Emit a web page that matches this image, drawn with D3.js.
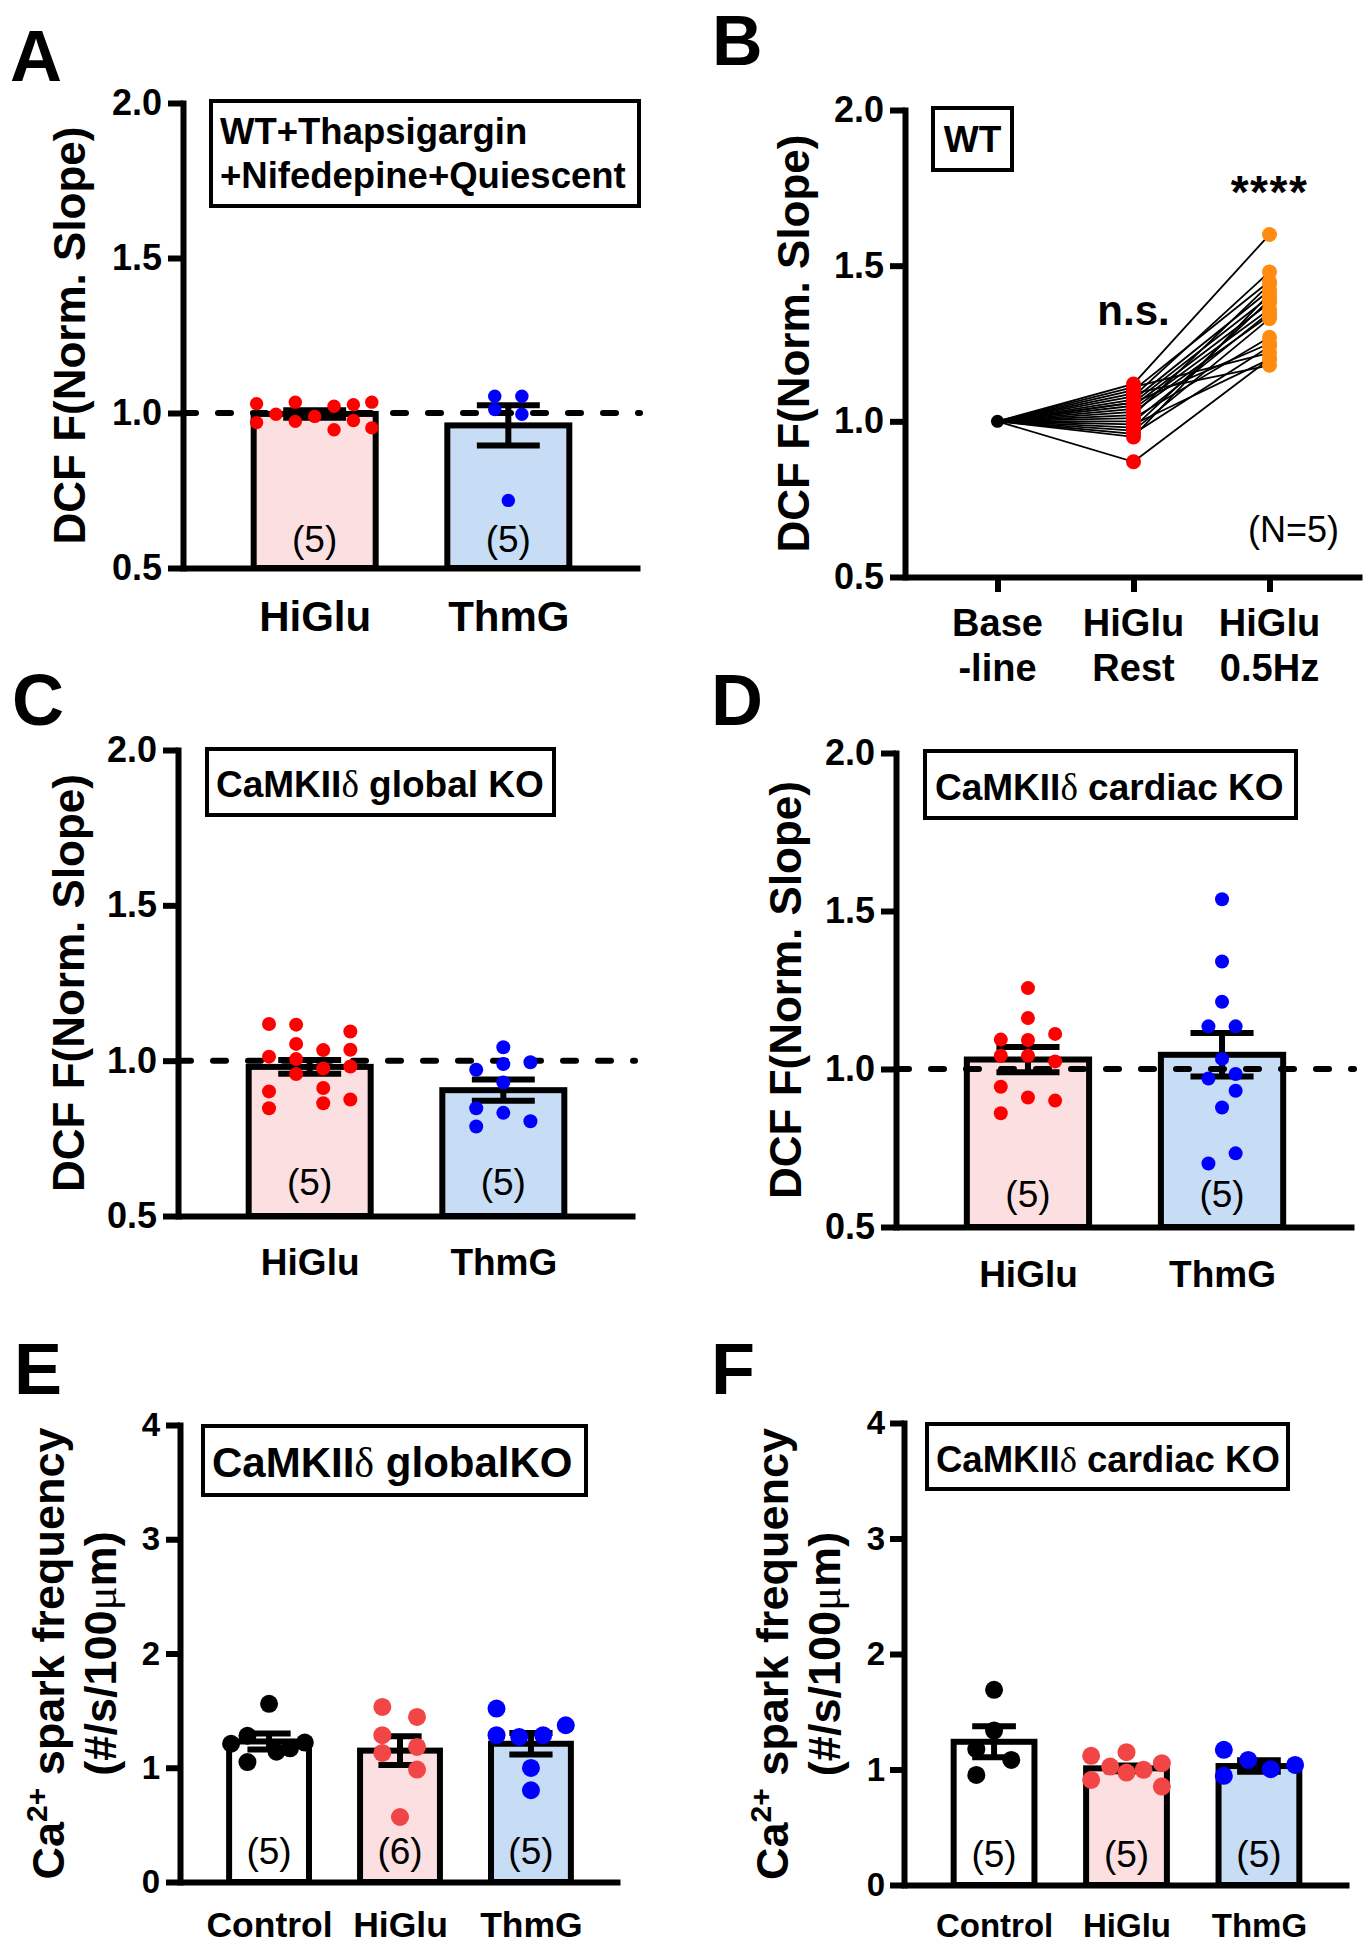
<!DOCTYPE html>
<html><head><meta charset="utf-8">
<script src="https://cdn.jsdelivr.net/npm/d3@7"></script>
<style>body{margin:0;background:#fff}svg{display:block}</style>
</head><body>
<script>
// ================= DATA =================
const barGroups = ["HiGlu", "ThmG"];
const sparkGroups = ["Control", "HiGlu", "ThmG"];
const pairedLabels = [["Base", "-line"], ["HiGlu", "Rest"], ["HiGlu", "0.5Hz"]];
const dcfTicks = [0.5, 1.0, 1.5, 2.0];
const sparkTicks = [0, 1, 2, 3, 4];

// Panel A
const aMean = [0.997, 0.960];
const aSem = [0.012, 0.065];
const aN = ["(5)", "(5)"];
const aHiGlu = [1.030, 0.969, 0.996, 1.035, 0.973, 0.989, 1.022, 0.946, 1.027, 0.976, 1.035, 0.952];
const aHiGluJitter = [-0.30, -0.30, -0.20, -0.10, -0.10, 0, 0.10, 0.10, 0.20, 0.20, 0.295, 0.295];
const aThmG = [1.054, 1.054, 1.011, 0.996, 0.718];
const aThmGJitter = [-0.07, 0.07, -0.07, 0.07, 0];

// Panel B (paired, 20 cells)
const bBaseline = 1.0;
const bRest = [1.12, 1.11, 1.10, 1.09, 1.08, 1.07, 1.06, 1.06, 1.05, 1.04, 1.03, 1.02, 1.01, 1.00, 0.99, 0.98, 0.97, 0.96, 0.95, 0.87];
const bHz   = [1.60, 1.22, 1.45, 1.18, 1.48, 1.42, 1.25, 1.40, 1.38, 1.36, 1.34, 1.44, 1.27, 1.35, 1.20, 1.39, 1.33, 1.24, 1.41, 1.20];

// Panel C
const cMean = [0.980, 0.905];
const cSem = [0.022, 0.034];
const cN = ["(5)", "(5)"];
const cHiGlu = [1.118, 1.013, 0.901, 0.847, 1.116, 1.054, 1.005, 0.957, 1.034, 0.975, 0.912, 0.863, 1.094, 1.035, 0.981, 0.875];
const cHiGluJitter = [-0.21, -0.21, -0.21, -0.21, -0.07, -0.07, -0.07, -0.07, 0.07, 0.07, 0.07, 0.07, 0.21, 0.21, 0.21, 0.21];
const cThmG = [0.971, 0.847, 0.788, 1.043, 0.989, 0.930, 0.832, 0.995, 0.805];
const cThmGJitter = [-0.14, -0.14, -0.14, 0, 0, 0, 0, 0.14, 0.14];

// Panel D
const dMean = [1.030, 1.045];
const dSem = [0.040, 0.069];
const dN = ["(5)", "(5)"];
const dHiGlu = [1.093, 1.042, 0.944, 0.860, 1.256, 1.161, 1.092, 1.042, 0.910, 1.111, 1.024, 0.900];
const dHiGluJitter = [-0.14, -0.14, -0.14, -0.14, 0, 0, 0, 0, 0, 0.14, 0.14, 0.14];
const dThmG = [1.135, 0.970, 0.701, 1.537, 1.340, 1.213, 1.032, 0.878, 1.135, 0.984, 0.931, 0.733];
const dThmGJitter = [-0.07, -0.07, -0.07, 0, 0, 0, 0, 0, 0.07, 0.07, 0.07, 0.07];

// Panel E
const eMean = [1.230, 1.150, 1.210];
const eSem = [0.070, 0.125, 0.095];
const eN = ["(5)", "(6)", "(5)"];
const eControl = [1.21, 1.28, 1.05, 1.56, 1.14, 1.17, 1.22];
const eControlJitter = [-0.29, -0.165, -0.165, 0, 0.057, 0.16, 0.273];
const eHiGlu = [1.532, 1.445, 1.285, 1.130, 1.182, 0.984, 0.569];
const eHiGluJitter = [-0.135, 0.13, -0.135, -0.135, 0.13, 0.13, 0];
const eThmG = [1.518, 1.285, 1.270, 1.285, 1.372, 0.998, 0.803];
const eThmGJitter = [-0.263, -0.263, -0.09, 0.093, 0.266, 0, 0];

// Panel F
const fMean = [1.240, 1.010, 1.030];
const fSem = [0.135, 0.025, 0.050];
const fN = ["(5)", "(5)", "(5)"];
const fControl = [1.690, 1.337, 1.176, 1.083, 0.953];
const fControlJitter = [0, 0, -0.134, 0.13, -0.134];
const fHiGlu = [1.118, 0.910, 1.025, 1.150, 0.973, 0.997, 1.055, 0.852];
const fHiGluJitter = [-0.267, -0.267, -0.123, 0, 0, 0.129, 0.267, 0.267];
const fThmG = [1.170, 0.945, 1.083, 1.003, 1.040];
const fThmGJitter = [-0.265, -0.265, -0.081, 0.089, 0.273];

// ================= STYLE =================
const FONT = "'Liberation Sans', Arial, Helvetica, sans-serif";
const SERIF = "'Liberation Serif', 'Times New Roman', serif";
const RED = "#FF0000", BLUE = "#0000FF", ORANGE = "#FF8C10", RED2 = "#F24545";
const PINK = "#FCDFE1", LBLUE = "#C7DCF5", WHITE = "#FFFFFF";
const SW = 6;

const svg = d3.select("body").append("svg").attr("width", 1372).attr("height", 1948);
svg.append("rect").attr("width", 1372).attr("height", 1948).attr("fill", "#fff");

function addText(g, o) {
  const t = g.append("text").attr("x", o.x).attr("y", o.y).attr("font-family", FONT)
    .attr("font-size", o.size).attr("font-weight", o.bold === false ? "normal" : "bold")
    .attr("text-anchor", o.anchor || "start").attr("fill", "#000").style("white-space", "pre");
  if (o.transform) t.attr("transform", o.transform);
  if (o.spacing) t.attr("letter-spacing", o.spacing);
  (o.segs || [{ t: o.text }]).forEach(s => {
    const ts = t.append("tspan").text(s.t);
    if (s.serif) ts.attr("font-family", SERIF).attr("font-weight", "normal");
    if (s.size) ts.attr("font-size", s.size);
    if (s.dy) ts.attr("dy", s.dy);
  });
  return t;
}

function drawBox(g, b) {
  g.append("rect").attr("x", b.x0 + 2).attr("y", b.y0 + 2).attr("width", b.x1 - b.x0 - 4)
    .attr("height", b.y1 - b.y0 - 4).attr("fill", "#fff").attr("stroke", "#000").attr("stroke-width", 4);
  b.lines.forEach(l => addText(g, { x: b.tx, y: l.y, size: b.size, segs: l.segs, anchor: b.anchor || "start" }));
}

function yAxis(g, y, p) {
  const ya = d3.axisLeft(y).tickValues(p.ticks).tickFormat(p.fmt).tickSize(p.tickLen)
    .tickSizeOuter(0).tickPadding(p.tickPad);
  const yg = g.append("g").attr("transform", `translate(${p.left},0)`).call(ya);
  yg.attr("font-family", FONT).attr("font-size", p.tickFont).attr("font-weight", "bold");
  yg.select(".domain").attr("stroke-width", SW).attr("stroke-linecap", "square");
  yg.selectAll(".tick line").attr("stroke-width", SW);
  yg.selectAll(".tick text").attr("fill", "#000");
}

function drawTitle(g, p) {
  p.titleLines.forEach(l => addText(g, { x: 0, y: 0, size: p.titleSize, anchor: "middle",
    transform: `translate(${l.x},${p.titleCy}) rotate(-90)`, segs: l.segs }));
}

function drawBarPanel(p) {
  const g = svg.append("g");
  const y = d3.scaleLinear().domain(p.domain).range([p.yBot, p.yTop]);
  const x = d3.scalePoint().domain(p.groups).range([p.left, p.right]).padding(0.68);
  const step = x.step(), bw = step * p.barFrac, cw = step * p.capFrac;

  g.append("g").selectAll("rect").data(p.groups).join("rect")
    .attr("x", d => x(d) - bw / 2).attr("y", (d, i) => y(p.means[i]))
    .attr("width", bw).attr("height", (d, i) => p.yBot - y(p.means[i]))
    .attr("fill", (d, i) => p.fills[i]).attr("stroke", "#000").attr("stroke-width", SW);

  g.append("g").selectAll("text").data(p.groups).join("text")
    .attr("x", d => x(d)).attr("y", p.nBase).attr("text-anchor", "middle")
    .attr("font-family", FONT).attr("font-size", 37).attr("fill", "#000")
    .text((d, i) => p.nLabels[i]);

  if (p.ref != null) {
    g.append("line").attr("x1", p.left).attr("x2", p.right).attr("y1", y(p.ref)).attr("y2", y(p.ref))
      .attr("stroke", "#000").attr("stroke-width", SW).attr("stroke-dasharray", "13,22")
      .attr("stroke-linecap", "round");
  }

  p.groups.forEach((gn, i) => {
    const xc = x(gn), m = p.means[i], s = p.sems[i];
    const eg = g.append("g").attr("stroke", "#000").attr("stroke-width", SW);
    eg.append("line").attr("x1", xc).attr("x2", xc).attr("y1", y(m - s)).attr("y2", y(m + s));
    [m - s, m + s].forEach(v => eg.append("line").attr("x1", xc - cw / 2).attr("x2", xc + cw / 2)
      .attr("y1", y(v)).attr("y2", y(v)));
  });

  p.dots.forEach((d, i) => {
    const xc = x(p.groups[i]);
    g.append("g").selectAll("circle").data(d.v).join("circle")
      .attr("cx", (v, k) => xc + d.j[k] * step).attr("cy", v => y(v)).attr("r", p.r).attr("fill", d.c);
  });

  const xa = d3.axisBottom(x).tickSize(0).tickSizeOuter(0);
  const xg = g.append("g").attr("transform", `translate(0,${p.yBot})`).call(xa);
  xg.attr("font-family", FONT).attr("font-size", p.labelFont).attr("font-weight", "bold");
  xg.select(".domain").attr("stroke-width", SW);
  xg.selectAll(".tick text").attr("y", p.labelBase - p.yBot).attr("dy", null).attr("fill", "#000");

  yAxis(g, y, p);
  drawTitle(g, p);
  drawBox(g, p.box);
  addText(g, { x: p.letter.x, y: p.letter.y, size: 72, text: p.letter.t });
}

function drawPaired(p) {
  const g = svg.append("g");
  const y = d3.scaleLinear().domain(p.domain).range([p.yBot, p.yTop]);
  const x = d3.scalePoint().domain([0, 1, 2]).range([p.left, p.right]).padding(0.68);
  const line = d3.line().x(d => x(d[0])).y(d => y(d[1]));

  g.append("g").selectAll("path").data(bRest).join("path")
    .attr("d", (r, i) => line([[0, bBaseline], [1, r], [2, bHz[i]]]))
    .attr("fill", "none").attr("stroke", "#000").attr("stroke-width", 1.8);

  g.append("circle").attr("cx", x(0)).attr("cy", y(bBaseline)).attr("r", 6.5).attr("fill", "#000");
  g.append("g").selectAll("circle").data(bRest).join("circle")
    .attr("cx", x(1)).attr("cy", d => y(d)).attr("r", 7.5).attr("fill", RED);
  g.append("g").selectAll("circle").data(bHz).join("circle")
    .attr("cx", x(2)).attr("cy", d => y(d)).attr("r", 7.5).attr("fill", ORANGE);

  const xa = d3.axisBottom(x).tickSize(15).tickSizeOuter(0).tickFormat("");
  const xg = g.append("g").attr("transform", `translate(0,${p.yBot})`).call(xa);
  xg.select(".domain").attr("stroke-width", SW);
  xg.selectAll(".tick line").attr("stroke-width", SW);

  pairedLabels.forEach((lab, i) => {
    lab.forEach((s, k) => addText(g, { x: x(i), y: p.labelBase[k], size: p.labelFont, anchor: "middle", text: s }));
  });

  yAxis(g, y, p);
  drawTitle(g, p);
  drawBox(g, p.box);

  addText(g, { x: x(1), y: y(1.31), size: 42, anchor: "middle", text: "n.s." });
  addText(g, { x: x(2), y: y(1.685), size: 46, anchor: "middle", text: "****", spacing: 1.5 });
  addText(g, { x: 1339, y: 542, size: 36, anchor: "end", bold: false, text: "(N=5)" });
  addText(g, { x: p.letter.x, y: p.letter.y, size: 70, text: p.letter.t });
}

const fmt1 = d3.format(".1f"), fmt0 = d3.format("d");
const dcfTitle = [{ t: "DCF F(Norm. Slope)" }];

// ---- A ----
drawBarPanel({
  left: 183, right: 640, yTop: 103, yBot: 568, domain: [0.5, 2.0], ticks: dcfTicks, fmt: fmt1,
  tickLen: 15, tickPad: 6, tickFont: 36, groups: barGroups, means: aMean, sems: aSem, nLabels: aN,
  fills: [PINK, LBLUE], dots: [{ v: aHiGlu, j: aHiGluJitter, c: RED }, { v: aThmG, j: aThmGJitter, c: BLUE }],
  barFrac: 0.63, capFrac: 0.325, r: 6.7, ref: 1.0, labelFont: 42, labelBase: 631, nBase: 552,
  titleSize: 44, titleCy: 335.5, titleLines: [{ x: 85, segs: dcfTitle }],
  box: { x0: 209, x1: 641, y0: 99, y1: 208, tx: 220, size: 36.5,
    lines: [{ y: 144, segs: [{ t: "WT+Thapsigargin" }] }, { y: 188, segs: [{ t: "+Nifedepine+Quiescent" }] }] },
  letter: { t: "A", x: 10, y: 81 }
});

// ---- B ----
drawPaired({
  left: 905, right: 1362, yTop: 110, yBot: 577, domain: [0.5, 2.0], ticks: dcfTicks, fmt: fmt1,
  tickLen: 15, tickPad: 6, tickFont: 36, labelFont: 38, labelBase: [636, 681],
  titleSize: 44, titleCy: 343.5, titleLines: [{ x: 809, segs: dcfTitle }],
  box: { x0: 931, x1: 1014, y0: 106, y1: 172, tx: 972.5, anchor: "middle", size: 37,
    lines: [{ y: 152, segs: [{ t: "WT" }] }] },
  letter: { t: "B", x: 712, y: 65 }
});

// ---- C ----
drawBarPanel({
  left: 178, right: 635, yTop: 750, yBot: 1216, domain: [0.5, 2.0], ticks: dcfTicks, fmt: fmt1,
  tickLen: 15, tickPad: 6, tickFont: 36, groups: barGroups, means: cMean, sems: cSem, nLabels: cN,
  fills: [PINK, LBLUE], dots: [{ v: cHiGlu, j: cHiGluJitter, c: RED }, { v: cThmG, j: cThmGJitter, c: BLUE }],
  barFrac: 0.63, capFrac: 0.325, r: 7, ref: 1.0, labelFont: 37, labelBase: 1275, nBase: 1195,
  titleSize: 44, titleCy: 983, titleLines: [{ x: 83.5, segs: dcfTitle }],
  box: { x0: 205, x1: 556, y0: 747, y1: 817, tx: 216, size: 37,
    lines: [{ y: 797, segs: [{ t: "CaMKII" }, { t: "δ", serif: true }, { t: " global KO" }] }] },
  letter: { t: "C", x: 12, y: 725 }
});

// ---- D ----
drawBarPanel({
  left: 896, right: 1354, yTop: 753, yBot: 1227, domain: [0.5, 2.0], ticks: dcfTicks, fmt: fmt1,
  tickLen: 15, tickPad: 6, tickFont: 36, groups: barGroups, means: dMean, sems: dSem, nLabels: dN,
  fills: [PINK, LBLUE], dots: [{ v: dHiGlu, j: dHiGluJitter, c: RED }, { v: dThmG, j: dThmGJitter, c: BLUE }],
  barFrac: 0.63, capFrac: 0.325, r: 7, ref: 1.0, labelFont: 37, labelBase: 1287, nBase: 1207,
  titleSize: 44, titleCy: 990, titleLines: [{ x: 801, segs: dcfTitle }],
  box: { x0: 923, x1: 1298, y0: 749, y1: 820, tx: 935, size: 37,
    lines: [{ y: 800, segs: [{ t: "CaMKII" }, { t: "δ", serif: true }, { t: " cardiac KO" }] }] },
  letter: { t: "D", x: 711, y: 725 }
});

// ---- E ----
const sparkL1 = [{ t: "Ca" }, { t: "2+", size: 30, dy: -17 }, { t: " spark frequency", dy: 17 }];
const sparkL2 = [{ t: "(#/s/100" }, { t: "μ", serif: true }, { t: "m)" }];
drawBarPanel({
  left: 180, right: 620, yTop: 1425, yBot: 1882, domain: [0, 4], ticks: sparkTicks, fmt: fmt0,
  tickLen: 14, tickPad: 6, tickFont: 33, groups: sparkGroups, means: eMean, sems: eSem, nLabels: eN,
  fills: [WHITE, PINK, LBLUE],
  dots: [{ v: eControl, j: eControlJitter, c: "#000" }, { v: eHiGlu, j: eHiGluJitter, c: RED2 }, { v: eThmG, j: eThmGJitter, c: BLUE }],
  barFrac: 0.61, capFrac: 0.33, r: 9, ref: null, labelFont: 35.5, labelBase: 1937, nBase: 1864,
  titleSize: 45, titleCy: 1653.5, titleLines: [{ x: 64, segs: sparkL1 }, { x: 116, segs: sparkL2 }],
  box: { x0: 201, x1: 588, y0: 1424, y1: 1497, tx: 212, size: 42,
    lines: [{ y: 1477, segs: [{ t: "CaMKII" }, { t: "δ", serif: true }, { t: " globalKO" }] }] },
  letter: { t: "E", x: 14, y: 1394 }
});

// ---- F ----
drawBarPanel({
  left: 904, right: 1349, yTop: 1423, yBot: 1885, domain: [0, 4], ticks: sparkTicks, fmt: fmt0,
  tickLen: 14, tickPad: 5, tickFont: 33, groups: sparkGroups, means: fMean, sems: fSem, nLabels: fN,
  fills: [WHITE, PINK, LBLUE],
  dots: [{ v: fControl, j: fControlJitter, c: "#000" }, { v: fHiGlu, j: fHiGluJitter, c: RED2 }, { v: fThmG, j: fThmGJitter, c: BLUE }],
  barFrac: 0.61, capFrac: 0.33, r: 9, ref: null, labelFont: 33, labelBase: 1937, nBase: 1867,
  titleSize: 45, titleCy: 1654, titleLines: [{ x: 788, segs: sparkL1 }, { x: 840, segs: sparkL2 }],
  box: { x0: 925, x1: 1290, y0: 1422, y1: 1491, tx: 936, size: 36.5,
    lines: [{ y: 1472, segs: [{ t: "CaMKII" }, { t: "δ", serif: true }, { t: " cardiac KO" }] }] },
  letter: { t: "F", x: 711, y: 1394 }
});
</script>
</body></html>
